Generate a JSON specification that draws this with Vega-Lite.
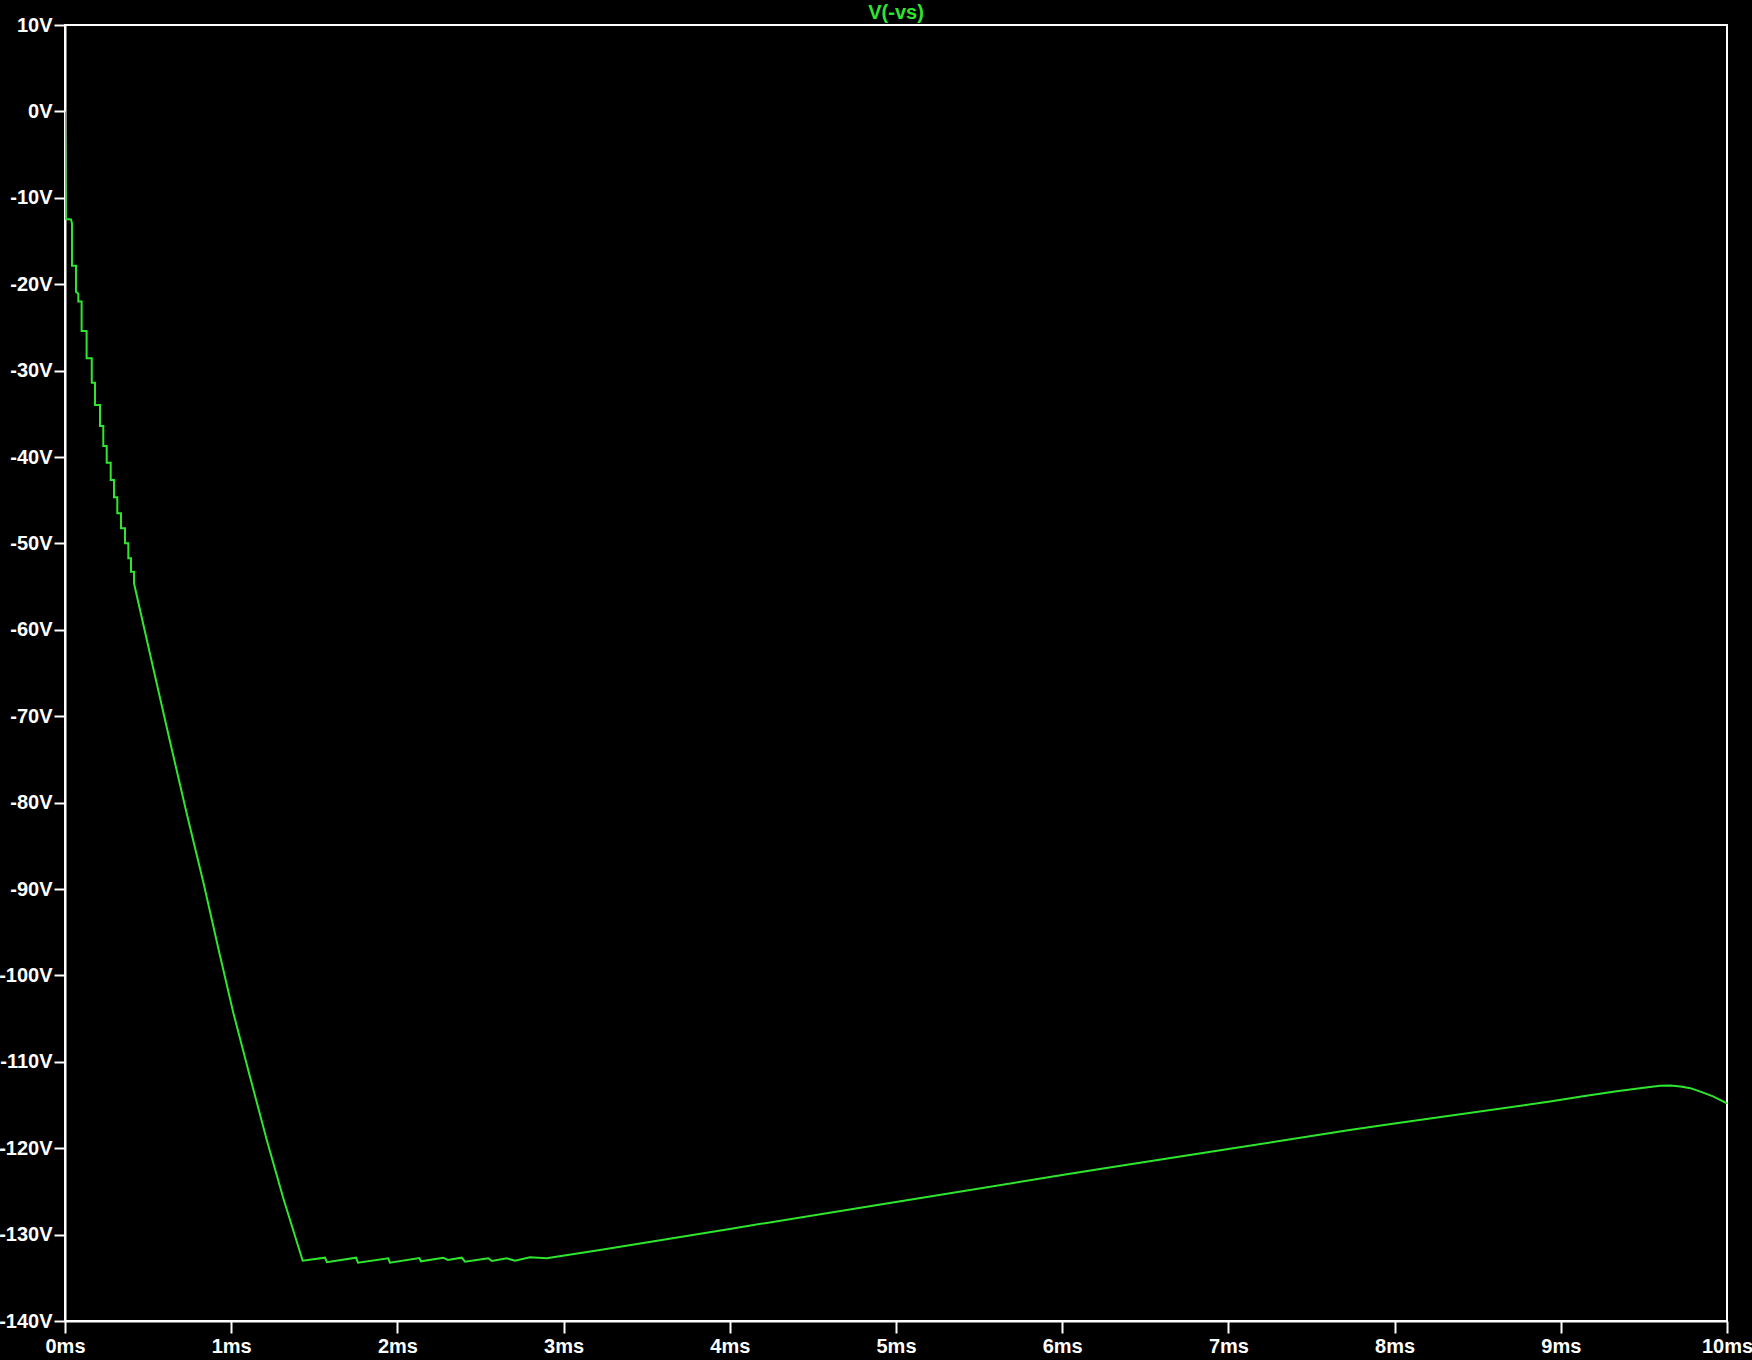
{
  "$schema": "https://vega.github.io/schema/vega-lite/v6.json",
  "width": 1662,
  "height": 1296,
  "autosize": {"type": "none"},
  "padding": {"left": 65, "top": 25, "right": 25, "bottom": 39},
  "background": "#000000",
  "title": {
    "text": "V(-vs)",
    "color": "#2ee62e",
    "font": "Liberation Sans",
    "fontSize": 20,
    "fontWeight": "bold",
    "anchor": "middle",
    "baseline": "alphabetic",
    "offset": -24
  },
  "config": {
    "view": {"stroke": "#ffffff", "strokeWidth": 2, "fill": "#000000"},
    "axis": {
      "grid": false,
      "domainColor": "#ffffff",
      "domainWidth": 2,
      "tickColor": "#ffffff",
      "tickWidth": 2,
      "labelColor": "#ffffff",
      "labelFont": "Liberation Sans",
      "labelFontSize": 20,
      "labelFontWeight": "bold",
      "title": null
    }
  },
  "data": {
    "values": [
      {"t": 0, "v": 0},
      {"t": 0.002, "v": -4.5},
      {"t": 0.005, "v": -12.45},
      {"t": 0.036, "v": -12.5},
      {"t": 0.042, "v": -13.0},
      {"t": 0.042, "v": -17.86},
      {"t": 0.066, "v": -17.86},
      {"t": 0.066, "v": -20.87},
      {"t": 0.08, "v": -21.1},
      {"t": 0.08, "v": -22.0},
      {"t": 0.1, "v": -22.0},
      {"t": 0.1, "v": -25.42},
      {"t": 0.13, "v": -25.42},
      {"t": 0.13, "v": -28.58},
      {"t": 0.161, "v": -28.58},
      {"t": 0.161, "v": -31.4},
      {"t": 0.1805, "v": -31.4},
      {"t": 0.1805, "v": -33.98},
      {"t": 0.2106, "v": -33.98},
      {"t": 0.2106, "v": -36.41},
      {"t": 0.2304, "v": -36.41},
      {"t": 0.2304, "v": -38.73},
      {"t": 0.2509, "v": -38.73},
      {"t": 0.2509, "v": -40.66},
      {"t": 0.275, "v": -40.66},
      {"t": 0.275, "v": -42.66},
      {"t": 0.2948, "v": -42.66},
      {"t": 0.2948, "v": -44.66},
      {"t": 0.3147, "v": -44.66},
      {"t": 0.3147, "v": -46.52},
      {"t": 0.3369, "v": -46.52},
      {"t": 0.3369, "v": -48.25},
      {"t": 0.361, "v": -48.25},
      {"t": 0.361, "v": -49.99},
      {"t": 0.3809, "v": -49.99},
      {"t": 0.3809, "v": -51.72},
      {"t": 0.3971, "v": -51.72},
      {"t": 0.3971, "v": -53.27},
      {"t": 0.4152, "v": -53.27},
      {"t": 0.4152, "v": -54.62},
      {"t": 0.531, "v": -64.46},
      {"t": 0.632, "v": -72.95},
      {"t": 0.732, "v": -81.24},
      {"t": 0.832, "v": -89.2},
      {"t": 0.93, "v": -97.5},
      {"t": 1.013, "v": -104.35},
      {"t": 1.113, "v": -111.72},
      {"t": 1.214, "v": -119.05},
      {"t": 1.313, "v": -125.76},
      {"t": 1.43, "v": -133.02},
      {"t": 1.564, "v": -132.67},
      {"t": 1.576, "v": -133.2},
      {"t": 1.751, "v": -132.67},
      {"t": 1.763, "v": -133.25},
      {"t": 1.945, "v": -132.74},
      {"t": 1.955, "v": -133.25},
      {"t": 2.132, "v": -132.71},
      {"t": 2.142, "v": -133.09},
      {"t": 2.276, "v": -132.67},
      {"t": 2.304, "v": -132.94},
      {"t": 2.387, "v": -132.67},
      {"t": 2.407, "v": -133.13},
      {"t": 2.547, "v": -132.74},
      {"t": 2.569, "v": -133.06},
      {"t": 2.658, "v": -132.74},
      {"t": 2.708, "v": -133.02},
      {"t": 2.798, "v": -132.63},
      {"t": 2.898, "v": -132.74},
      {"t": 3.219, "v": -131.78},
      {"t": 4.0, "v": -129.34},
      {"t": 5.0, "v": -126.22},
      {"t": 6.0, "v": -123.1},
      {"t": 6.227, "v": -122.4},
      {"t": 7.0, "v": -120.1},
      {"t": 7.73, "v": -117.9},
      {"t": 8.0, "v": -117.15},
      {"t": 8.935, "v": -114.6},
      {"t": 9.134, "v": -114.0},
      {"t": 9.336, "v": -113.4},
      {"t": 9.5, "v": -113.0},
      {"t": 9.597, "v": -112.77},
      {"t": 9.66, "v": -112.75},
      {"t": 9.72, "v": -112.85},
      {"t": 9.78, "v": -113.05},
      {"t": 9.84, "v": -113.45},
      {"t": 9.916, "v": -114.0},
      {"t": 10, "v": -114.8}
    ]
  },
  "mark": {"type": "line", "color": "#2ee62e", "strokeWidth": 2, "clip": true},
  "encoding": {
    "x": {
      "field": "t",
      "type": "quantitative",
      "scale": {"domain": [0, 10], "nice": false, "zero": false},
      "axis": {
        "values": [0, 1, 2, 3, 4, 5, 6, 7, 8, 9, 10],
        "labelExpr": "datum.value + 'ms'",
        "tickSize": 12,
        "labelPadding": 3,
        "labelFlush": false,
        "labelOverlap": false
      }
    },
    "y": {
      "field": "v",
      "type": "quantitative",
      "scale": {"domain": [-140, 10], "nice": false, "zero": false},
      "axis": {
        "values": [10, 0, -10, -20, -30, -40, -50, -60, -70, -80, -90, -100, -110, -120, -130, -140],
        "labelExpr": "datum.value + 'V'",
        "tickSize": 11,
        "labelPadding": 2,
        "labelFlush": false,
        "labelOverlap": false
      }
    },
    "order": {"value": null}
  }
}
